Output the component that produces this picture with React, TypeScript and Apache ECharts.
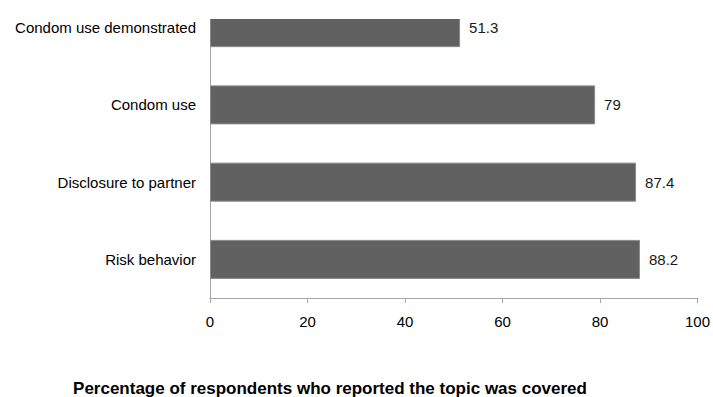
import React, { useEffect, useRef } from "react";
import * as echarts from "echarts";

const categories = ["Condom use demonstrated", "Condom use", "Disclosure to partner", "Risk behavior"];
const values = [51.3, 79, 87.4, 88.2];
const xTicks = [0, 20, 40, 60, 80, 100];
const titleText = "Percentage of respondents who reported the topic was covered";

const FONT = '"Liberation Sans", Arial, sans-serif';

export default function App() {
  const ref = useRef<HTMLDivElement>(null);
  useEffect(() => {
    if (!ref.current) return;
    const chart = echarts.init(ref.current, null, { renderer: "svg" });
    chart.setOption({
      animation: false,
      backgroundColor: "#ffffff",
      textStyle: { fontFamily: FONT },
      title: {
        text: titleText,
        left: 325,
        textAlign: "center",
        top: 386,
        textStyle: { fontFamily: FONT, fontSize: 17, fontWeight: "bold", color: "#000000" },
      },
      grid: { left: 210, right: 15, top: 0, bottom: 99 },
      xAxis: {
        type: "value",
        min: xTicks[0],
        max: xTicks[xTicks.length - 1],
        interval: 20,
        axisLine: { show: true, lineStyle: { color: "#a6a6a6", width: 1 } },
        axisTick: { show: true, length: 5, lineStyle: { color: "#a6a6a6" } },
        splitLine: { show: false },
        axisLabel: { fontFamily: FONT, fontSize: 15, color: "#000000", margin: 16 },
      },
      yAxis: {
        type: "category",
        inverse: true,
        data: categories,
        axisLine: { show: true, lineStyle: { color: "#a6a6a6", width: 1 } },
        axisTick: { show: false },
        axisLabel: { fontFamily: FONT, fontSize: 15, color: "#000000", margin: 14 },
      },
      series: [
        {
          type: "bar",
          data: values,
          barWidth: 39,
          itemStyle: { color: "#616161", borderColor: "#8a8a8a", borderWidth: 1 },
          label: {
            show: true,
            position: "right",
            distance: 9,
            fontFamily: FONT,
            fontSize: 15,
            color: "#1a1a1a",
          },
        },
      ],
      graphic: [
        { type: "rect", left: 205, top: 0, shape: { width: 508, height: 30 }, style: { fill: "#ffffff" }, z: 100 },
      ],
    });
    return () => chart.dispose();
  }, []);
  return <div ref={ref} style={{ position: "absolute", left: 0, top: -11, width: 713, height: 408 }} />;
}
